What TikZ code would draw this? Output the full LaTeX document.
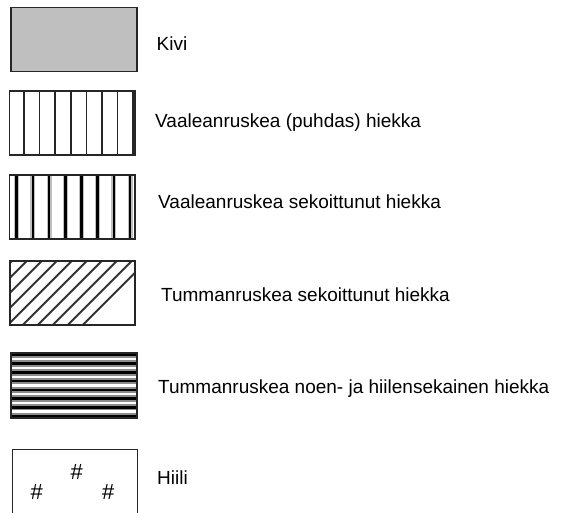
\documentclass[tikz,border=0pt]{standalone}
\usepackage{fontspec}
\setmainfont{Liberation Sans}

\begin{document}
\begin{tikzpicture}[x=1pt,y=-1pt,
		box/.style={draw=black!85, line width=1.2pt},
		lbl/.style={anchor=base west, inner sep=0pt, font=\fontsize{19}{21}\selectfont},
		hash/.style={inner sep=0pt, font=\fontsize{22}{24}\selectfont}]
		\useasboundingbox (0,0) rectangle (562,512);

		% Kivi
		\filldraw[box, fill=black!25] (11,7.3) rectangle (137,71.7);
		\node[lbl] (kivi) at (156.5,50) {Kivi};

		% Vaaleanruskea (puhdas) hiekka
		\foreach \i in {0,...,7}
			\draw[line width=1.5pt, black!85] (24+15.6*\i,91) -- (24+15.6*\i,155);
		\draw[box] (9.3,91) rectangle (135,155);
		\node[lbl] (vpuhdas) at (155,127.5) {Vaaleanruskea (puhdas) hiekka};

		% Vaaleanruskea sekoittunut hiekka
		\foreach \i in {0,...,7} {
			\draw[line width=5pt, black!25] (16.7+16.2*\i,175) -- (16.7+16.2*\i,239);
			\draw[line width=2.6pt] (16.7+16.2*\i,175) -- (16.7+16.2*\i,239);
		}
		\draw[box] (9.3,175) rectangle (135,239);
		\node[lbl] (vsekoit) at (158,208.3) {Vaaleanruskea sekoittunut hiekka};

		% Tummanruskea sekoittunut hiekka
		\begin{scope}
			\clip (10,261) rectangle (135,325);
			\foreach \i in {-5,...,8}
				\draw[line width=2pt, black!80] (26.7+15*\i-70,331) -- ++(80,-80);
		\end{scope}
		\draw[box] (10,261) rectangle (135,325);
		\node[lbl] (tsekoit) at (161,301) {Tummanruskea sekoittunut hiekka};

		% Tummanruskea noen- ja hiilensekainen hiekka
		\begin{scope}
			\clip (11,353) rectangle (137,418);
			\foreach \i in {0,...,7} {
				\draw[line width=6.5pt, black!45] (11,355+8.7*\i) -- (137,355+8.7*\i);
				\draw[line width=2.6pt] (11,355+8.7*\i) -- (137,355+8.7*\i);
			}
		\end{scope}
		\draw[box] (11,353) rectangle (137,418);
		\node[lbl] (tnoen) at (158,393.3) {Tummanruskea noen- ja hiilensekainen hiekka};

		% Hiili
		\draw[box, line width=1pt] (12,520) -- (12,449.3) -- (137,449.3) -- (137,520);
		\node[hash] (h1) at (76.7,471.7) {\#};
		\node[hash] (h2) at (36.7,491.7) {\#};
		\node[hash] (h3) at (108.3,491.7) {\#};
		\node[lbl] (hiili) at (157,484) {Hiili};
	\end{tikzpicture}
\end{document}
